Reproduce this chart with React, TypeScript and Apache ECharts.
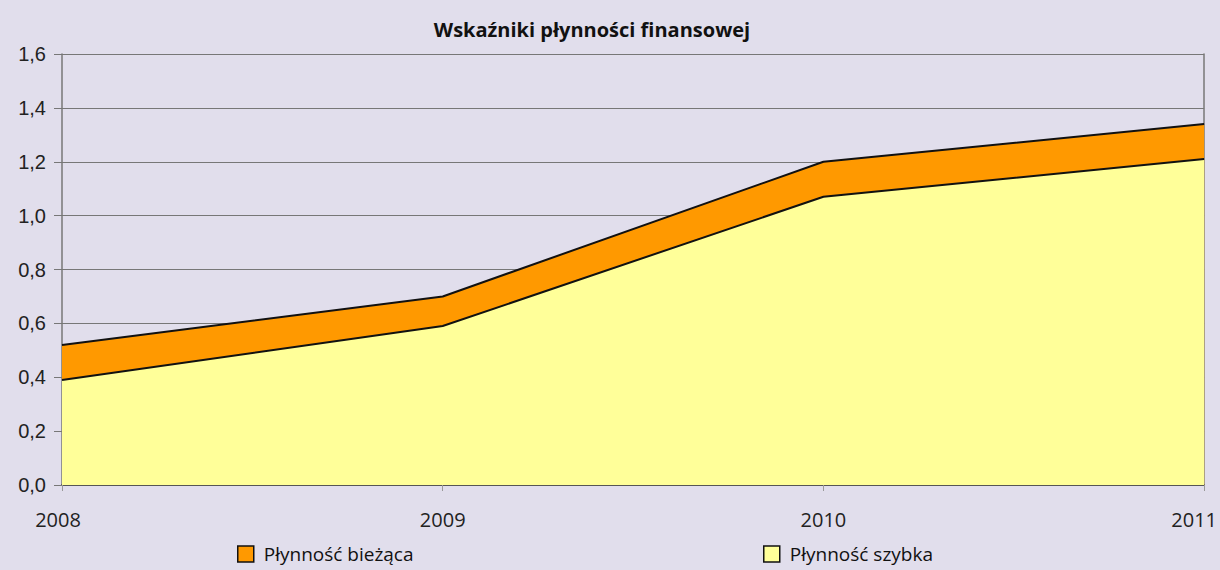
import React, { useEffect, useRef } from "react";
import * as echarts from "echarts";

const years = ["2008", "2009", "2010", "2011"];
const biezaca = [0.52, 0.70, 1.20, 1.34];
const szybka = [0.39, 0.59, 1.07, 1.21];
const yTicks = [0, 0.2, 0.4, 0.6, 0.8, 1.0, 1.2, 1.4, 1.6];

export default function App() {
  const ref = useRef<HTMLDivElement>(null);
  useEffect(() => {
    if (!ref.current) return;
    const chart = echarts.init(ref.current, undefined, { renderer: "svg" });
    const legendBase = {
      top: 544,
      padding: 0,
      itemWidth: 16,
      itemHeight: 16,
      itemGap: 10,
      icon: "rect",
      itemStyle: { borderColor: "#111", borderWidth: 1.5 },
      textStyle: {
        fontFamily: "Open Sans",
        fontSize: 19,
        lineHeight: 20,
        color: "#111",
        padding: [0, 0, 0, 5],
      },
    };
    const xData = years.map((y, i) =>
      i === years.length - 1
        ? { value: y, textStyle: { padding: [0, 20, 0, 0] } }
        : i === 0
        ? { value: y, textStyle: { padding: [0, 8, 0, 0] } }
        : y
    );
    chart.setOption({
      animation: false,
      backgroundColor: "#e1deec",
      title: {
        text: "Wskaźniki płynności finansowej",
        left: 587,
        textAlign: "center",
        top: 14,
        textStyle: { fontFamily: "Open Sans", fontWeight: "bold", fontSize: 20, color: "#111" },
      },
      grid: { left: 62, right: 10, top: 54, bottom: 85 },
      legend: [
        { ...legendBase, data: ["Płynność bieżąca"], left: 237 },
        { ...legendBase, data: ["Płynność szybka"], left: 763 },
      ],
      xAxis: {
        type: "category",
        data: xData,
        boundaryGap: false,
        axisLine: { lineStyle: { color: "#555", width: 2 } },
        axisTick: { show: true, length: 6, lineStyle: { color: "#999" } },
        axisLabel: { fontFamily: "Open Sans", fontSize: 20, color: "#222", margin: 24 },
        splitLine: { show: false },
      },
      yAxis: [
        {
          type: "value",
          min: 0,
          max: 1.6,
          interval: 0.2,
          axisLine: { show: true, lineStyle: { color: "#777", width: 1.5 } },
          axisTick: { show: true, length: 8, lineStyle: { color: "#777" } },
          axisLabel: {
            fontFamily: "Liberation Sans",
            fontSize: 20,
            color: "#222",
            margin: 16,
            formatter: (v: number) => {
              const t = yTicks.find((x) => Math.abs(x - v) < 1e-6);
              return (t !== undefined ? t : v).toFixed(1).replace(".", ",");
            },
          },
          splitLine: { show: true, lineStyle: { color: "#777", width: 1 } },
        },
        {
          type: "value",
          position: "right",
          min: 0,
          max: 1.6,
          interval: 0.2,
          axisLine: { show: true, lineStyle: { color: "#777", width: 1.5 } },
          axisTick: { show: false },
          axisLabel: { show: false },
          splitLine: { show: false },
        },
      ],
      series: [
        {
          name: "Płynność bieżąca",
          type: "line",
          data: biezaca,
          symbol: "none",
          z: 2,
          lineStyle: { color: "#111", width: 2 },
          itemStyle: { color: "#ff9900", borderColor: "#111" },
          areaStyle: { color: "#ff9900", opacity: 1 },
        },
        {
          name: "Płynność szybka",
          type: "line",
          data: szybka,
          symbol: "none",
          z: 3,
          lineStyle: { color: "#111", width: 2 },
          itemStyle: { color: "#ffff99", borderColor: "#111" },
          areaStyle: { color: "#ffff99", opacity: 1 },
        },
      ],
    });
    return () => chart.dispose();
  }, []);
  return (
    <div
      ref={ref}
      style={{ position: "fixed", left: 0, top: 0, width: 1220, height: 570 }}
    />
  );
}
